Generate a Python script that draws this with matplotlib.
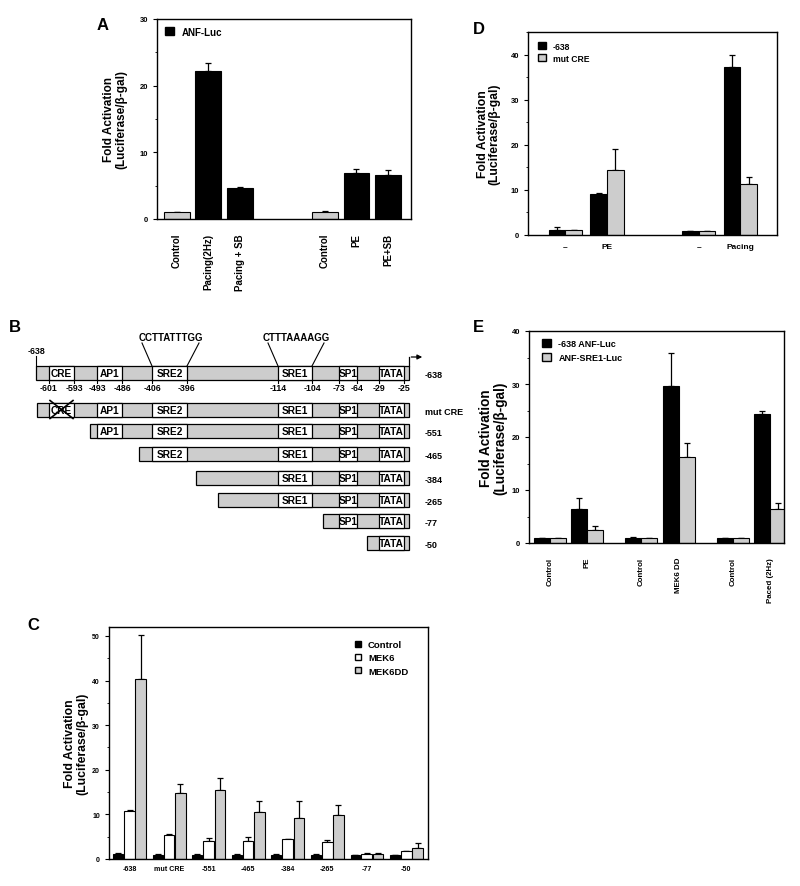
import matplotlib
matplotlib.use("Agg")
import matplotlib.pyplot as plt
from matplotlib.ticker import MultipleLocator
from matplotlib.patches import Rectangle, Patch
import numpy as np

plt.rcParams['font.family'] = ['Liberation Sans', 'DejaVu Sans']
plt.rcParams['font.weight'] = 'bold'

GRAY = '#cdcdcd'
W, H = 800, 887

# ---------------- data ----------------
# Panel A
a_labels = ['Control', 'Pacing(2Hz)', 'Pacing + SB', 'Control', 'PE', 'PE+SB']
a_vals = [1.0, 22.2, 4.7, 1.1, 6.9, 6.6]
a_err = [0.0, 1.2, 0.1, 0.15, 0.6, 0.7]
a_is_control = [True, False, False, True, False, False]

# Panel D
d_groups = ['\u2013', 'PE', '\u2013', 'Pacing']
d_638 = [1.0, 9.1, 0.8, 37.3]
d_638_err = [0.8, 0.2, 0.05, 2.6]
d_mut = [1.0, 14.3, 0.8, 11.4]
d_mut_err = [0.2, 4.8, 0.05, 1.5]

# Panel E
e_labels = ['Control', 'PE', 'Control', 'MEK6 DD', 'Control', 'Paced (2Hz)']
e_638 = [1.0, 6.5, 1.0, 29.6, 0.9, 24.3]
e_638_err = [0.0, 1.95, 0.1, 6.3, 0.0, 0.6]
e_sre1 = [1.0, 2.5, 1.0, 16.2, 0.9, 6.5]
e_sre1_err = [0.0, 0.75, 0.0, 2.6, 0.1, 1.1]

# Panel C
c_labels = ['-638', 'mut CRE', '-551', '-465', '-384', '-265', '-77', '-50']
c_control = [1.1, 1.0, 1.0, 1.0, 1.0, 1.0, 0.9, 0.8]
c_control_err = [0.15, 0.15, 0.05, 0.05, 0.2, 0.05, 0.05, 0.05]
c_mek6 = [10.8, 5.45, 3.96, 4.0, 4.4, 3.8, 1.2, 1.7]
c_mek6_err = [0.1, 0.2, 0.7, 0.85, 0.15, 0.55, 0.1, 0.15]
c_mek6dd = [40.3, 14.9, 15.4, 10.6, 9.3, 9.8, 1.2, 2.4]
c_mek6dd_err = [10.0, 1.8, 2.8, 2.5, 3.7, 2.2, 0.15, 1.1]

# Panel B (schematic)
b_constructs = ['-638', 'mut CRE', '-551', '-465', '-384', '-265', '-77', '-50']
b_start = [36, 37, 90, 139, 196, 218, 323, 367]
b_end = 409
b_elements = ['CRE', 'AP1', 'SRE2', 'SRE1', 'SP1', 'TATA']
b_el_start = [49, 97, 152, 278, 339, 379]
b_el_end = [74, 122, 187, 312, 357, 404]
b_pos_labels = ['-601', '-593', '-493', '-486', '-406', '-396',
                '-114', '-104', '-73', '-64', '-29', '-25']
b_seqs = {'SRE2': 'CCTTATTTGG', 'SRE1': 'CTTTAAAAGG'}

fig = plt.figure(figsize=(8, 8.87), dpi=100)


def px_axes(l, r, t, b):
    return fig.add_axes([l / W, 1 - b / H, (r - l) / W, (b - t) / H])


def style(ax, ymax, major, ylabel_size=8.5, tick_size=5.5, labelpad=8):
    ax.set_ylim(0, ymax)
    ax.yaxis.set_major_locator(MultipleLocator(major))
    ax.yaxis.set_minor_locator(MultipleLocator(major / 2))
    ax.tick_params(axis='y', which='major', direction='out', length=3, width=0.8,
                   labelsize=tick_size)
    ax.tick_params(axis='y', which='minor', direction='out', length=1.5, width=0.6)
    ax.tick_params(axis='x', length=0)
    for s in ax.spines.values():
        s.set_linewidth(1.0)
    for lab in ax.get_yticklabels():
        lab.set_fontweight('bold')
    ax.set_ylabel('Fold Activation\n(Luciferase/\u03b2-gal)', fontsize=ylabel_size,
                  fontweight='bold', linespacing=1.0, labelpad=labelpad)


def bars(ax, x, vals, errs, width, colors):
    ax.bar(x, vals, width=width, color=colors, edgecolor='black', linewidth=0.8, zorder=2)
    ax.errorbar(x, vals, yerr=[np.zeros(len(vals)), errs], fmt='none', ecolor='black',
                elinewidth=0.9, capsize=2.5, capthick=0.9, zorder=1)


# ---------------- Panel A ----------------
axA = px_axes(157, 411, 20, 220)
a_x = np.array([0, 1, 2, 4.7, 5.7, 6.7])
bars(axA, a_x, a_vals, a_err, 0.82, [GRAY if c else 'black' for c in a_is_control])
axA.set_xlim(-0.63, 7.43)
style(axA, 30, 10, 8.5, 5.5, 9)
axA.set_xticks(a_x)
axA.set_xticklabels(a_labels, rotation=90, fontsize=7, fontweight='bold')
axA.tick_params(axis='x', pad=10)
axA.legend(handles=[Patch(facecolor='black', edgecolor='black', label='ANF-Luc')],
           loc='upper left', frameon=False, fontsize=7, handlelength=0.9, handleheight=0.9,
           bbox_to_anchor=(0.0, 1.0), borderaxespad=0.4)

# ---------------- Panel D ----------------
axD = px_axes(528, 777, 33, 236)
d_x = np.array([0, 1, 3.2, 4.2])
bars(axD, d_x - 0.2, d_638, d_638_err, 0.4, 'black')
bars(axD, d_x + 0.2, d_mut, d_mut_err, 0.4, GRAY)
axD.set_xlim(-0.9, 5.08)
style(axD, 45, 10, 8.7, 5.5, 7)
axD.set_xticks(d_x)
axD.set_xticklabels(d_groups, fontsize=6, fontweight='bold')
axD.tick_params(axis='x', pad=6)
axD.legend(handles=[Patch(facecolor='black', edgecolor='black', label='-638'),
                    Patch(facecolor=GRAY, edgecolor='black', label='mut CRE')],
           loc='upper left', frameon=False, fontsize=6.2, handlelength=0.9, handleheight=0.9,
           bbox_to_anchor=(0.01, 0.99), labelspacing=0.35)

# ---------------- Panel E ----------------
axE = px_axes(529, 784, 332, 544)
e_x = np.array([0, 1, 2.45, 3.45, 4.9, 5.9])
bars(axE, e_x - 0.215, e_638, e_638_err, 0.43, 'black')
bars(axE, e_x + 0.215, e_sre1, e_sre1_err, 0.43, GRAY)
axE.set_xlim(-0.56, 6.27)
style(axE, 40, 10, 9.8, 5.5, 3)
axE.set_xticks(e_x)
axE.set_xticklabels(e_labels, rotation=90, fontsize=5.7, fontweight='bold')
axE.tick_params(axis='x', pad=10)
axE.legend(handles=[Patch(facecolor='black', edgecolor='black', label='-638 ANF-Luc'),
                    Patch(facecolor=GRAY, edgecolor='black', label='ANF-SRE1-Luc')],
           loc='upper left', frameon=False, fontsize=6.5, handlelength=1.0, handleheight=1.0,
           bbox_to_anchor=(0.02, 1.0), labelspacing=0.5)

# ---------------- Panel C ----------------
axC = px_axes(109, 428, 628, 860)
c_x = np.arange(len(c_labels))
bars(axC, c_x - 0.285, c_control, c_control_err, 0.25, 'black')
bars(axC, c_x, c_mek6, c_mek6_err, 0.27, 'white')
bars(axC, c_x + 0.285, c_mek6dd, c_mek6dd_err, 0.27, GRAY)
axC.set_xlim(-0.52, 7.55)
style(axC, 52, 10, 8.8, 5, 3)
axC.set_xticks(c_x)
axC.set_xticklabels(c_labels, fontsize=5.1, fontweight='bold')
axC.tick_params(axis='x', pad=4)
axC.legend(handles=[Patch(facecolor='black', edgecolor='black', label='Control'),
                    Patch(facecolor='white', edgecolor='black', label='MEK6'),
                    Patch(facecolor=GRAY, edgecolor='black', label='MEK6DD')],
           loc='upper right', frameon=False, fontsize=6.8, handlelength=0.6, handleheight=0.6,
           bbox_to_anchor=(0.965, 0.98), labelspacing=0.45, handletextpad=0.8)

# ---------------- Panel B (schematic) ----------------
axB = fig.add_axes([0, 0, 1, 1], zorder=-1)
axB.set_xlim(0, W)
axB.set_ylim(H, 0)
axB.axis('off')
axB.patch.set_visible(False)

row_y = [374, 410.5, 431.5, 455, 479, 501, 522, 543.5]
bh = 14
for i, (name, xs) in enumerate(zip(b_constructs, b_start)):
    yc = row_y[i]
    top = yc - bh / 2
    axB.add_patch(Rectangle((xs, top), b_end - xs, bh, facecolor=GRAY,
                            edgecolor='black', linewidth=0.9))
    for el, s, e in zip(b_elements, b_el_start, b_el_end):
        if s >= xs:
            axB.add_patch(Rectangle((s, top), e - s, bh, facecolor='white',
                                    edgecolor='black', linewidth=0.9))
            axB.text((s + e) / 2, yc + 0.5, el, ha='center', va='center',
                     fontsize=7.3, fontweight='bold')
            if name == 'mut CRE' and el == 'CRE':
                axB.plot([s + 1, e - 1], [top - 2, top + bh + 2], color='black', lw=1.2)
                axB.plot([s + 1, e - 1], [top + bh + 2, top - 2], color='black', lw=1.2)
    axB.text(425, yc + 2, name, ha='left', va='center', fontsize=6.5, fontweight='bold')

# first row decorations
y0 = row_y[0]
top0, bot0 = y0 - bh / 2, y0 + bh / 2
bounds = []
for s, e in zip(b_el_start, b_el_end):
    bounds += [s, e]
for bx, lab in zip(bounds, b_pos_labels):
    axB.plot([bx, bx], [bot0, bot0 + 3], color='black', lw=0.8)
    axB.text(bx, bot0 + 8, lab, ha='center', va='center', fontsize=6.3, fontweight='bold')
axB.plot([b_start[0], b_start[0]], [top0, top0 - 10], color='black', lw=0.8)
axB.text(b_start[0], top0 - 15, '-638', ha='center', va='center', fontsize=6.3,
         fontweight='bold')
axB.plot([b_end, b_end], [top0, top0 - 9], color='black', lw=0.9)
axB.annotate('', xy=(b_end + 16, top0 - 9), xytext=(b_end - 0.5, top0 - 9),
             arrowprops=dict(arrowstyle='-|>', color='black', lw=0.9, mutation_scale=7))
for el, s, e in zip(b_elements, b_el_start, b_el_end):
    if el in b_seqs:
        axB.plot([s, s - 10], [top0, top0 - 23], color='black', lw=0.8)
        axB.plot([e, e + 12], [top0, top0 - 23], color='black', lw=0.8)
        axB.text((s + e) / 2 + 1, top0 - 29, b_seqs[el], ha='center', va='center',
                 fontsize=7, fontweight='bold')

# panel letters
for letter, (px, py) in zip('ABCDE', [(103, 25), (15, 328), (33, 626), (479, 29), (478, 328)]):
    axB.text(px, py, letter, ha='center', va='center', fontsize=12, fontweight='bold')

fig.savefig('out.png', dpi=100)
